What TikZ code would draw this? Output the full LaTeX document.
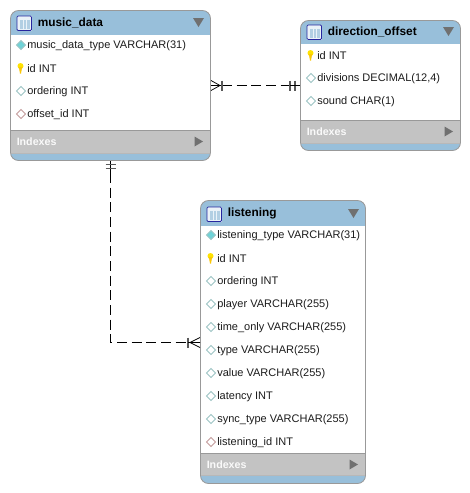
\documentclass[tikz,border=0pt]{standalone}
\usepackage{fontspec}
\setmainfont{Liberation Sans}
\usetikzlibrary{calc}
\definecolor{hdr}{HTML}{98BFDA}
\definecolor{idx}{HTML}{C3C3C3}
\definecolor{frame}{HTML}{999999}
\definecolor{tri}{HTML}{707070}
\definecolor{teal}{HTML}{9CC4C4}
\definecolor{cyanfill}{HTML}{6FD3D8}
\definecolor{fk}{HTML}{C49C9C}
\definecolor{ink}{HTML}{1C1C1C}
\tikzset{
  x=0.75pt,y=-0.75pt,
  titletext/.style={font=\bfseries\fontsize{8.9}{11}\selectfont,text=black,anchor=west,inner sep=0pt},
  coltext/.style={font=\fontsize{8.25}{10}\selectfont,text=ink,anchor=west,inner sep=0pt,yshift=-0.6pt},
  idxtext/.style={font=\bfseries\fontsize{8}{10}\selectfont,text=white!92!idx,anchor=west,inner sep=0pt},
  rel/.style={draw=black,line width=0.7pt,dash pattern=on 7.5pt off 3.5pt},
  tip/.style={draw=black,line width=0.55pt},
  bar/.style={draw=black!65,line width=0.8pt},
}
% #1 name, #2 x0, #3 y0, #4 x1, #5 y1, #6 header bottom, #7 index top, #8 index bottom, #9 title
\newcommand{\ertable}[9]{
  \path[fill=white,rounded corners=6pt] (#2,#3) rectangle (#4,#5);
  \begin{scope}
    \clip[rounded corners=6pt] (#2,#3) rectangle (#4,#5);
    \fill[hdr] (#2,#3) rectangle (#4,#6);
    \fill[hdr] (#2,#8) rectangle (#4,#5);
    \fill[idx] (#2,#7) rectangle (#4,#8);
    \draw[frame,line width=0.6pt] (#2,#7) -- (#4,#7);
    \draw[frame!70,line width=0.4pt] (#2,#8) -- (#4,#8);
  \end{scope}
  \path[draw=frame,line width=0.65pt,rounded corners=6pt] (#2,#3) rectangle (#4,#5);
  \coordinate (#1-nw) at (#2,#3);
  \coordinate (#1-se) at (#4,#5);
  % table icon
  \fill[white!80!hdr] ($(#2,#6)+(6.5,-19)$) rectangle ($(#2,#6)+(21,-4.5)$);
  \fill[hdr!75!white] ($(#2,#6)+(9,-15.5)$) rectangle ($(#2,#6)+(12,-6.5)$);
  \fill[hdr!75!white] ($(#2,#6)+(13,-15.5)$) rectangle ($(#2,#6)+(15.5,-6.5)$);
  \fill[hdr!75!white] ($(#2,#6)+(16.5,-15.5)$) rectangle ($(#2,#6)+(19.5,-6.5)$);
  \draw[blue!55!black!85,line width=0.6pt,rounded corners=0.8pt] ($(#2,#6)+(6.5,-19)$) rectangle ($(#2,#6)+(21,-4.5)$);
  \node[titletext] (#1-title) at ($(#2,#6)+(27,-12.5)$) {#9};
  \fill[tri] ($(#4,#6)+(-17.5,-17)$) -- ($(#4,#6)+(-6.5,-17)$) -- ($(#4,#6)+(-12,-8)$) -- cycle;
  \node[idxtext] (#1-indexes) at ($(#2,#7)+(6,11.5)$) {Indexes};
  \fill[tri] ($(#4,#7)+(-16,6.5)$) -- ($(#4,#7)+(-16,16.5)$) -- ($(#4,#7)+(-7.5,11.5)$) -- cycle;
}
\newcommand{\pk}[4]{
  \fill[yellow!85!orange] (#2+10.5,#3-2) circle (3);
  \fill[yellow!60!orange] (#2+8.8,#3-1) -- (#2+12.2,#3-1) -- (#2+11,#3+5.5) -- (#2+10,#3+5.5) -- cycle;
  \node[coltext] (#1) at (#2+17,#3) {#4};
}
\newcommand{\colrow}[5]{
  \path[#1] (#3+6.5,#4) -- (#3+11,#4-4.5) -- (#3+15.5,#4) -- (#3+11,#4+4.5) -- cycle;
  \node[coltext] (#2) at (#3+17,#4) {#5};
}
\tikzset{
  opn/.style={draw=teal,line width=0.75pt,fill=white},
  ful/.style={draw=teal,line width=0.6pt,fill=cyanfill},
  fkd/.style={draw=fk,line width=0.75pt,fill=white},
}
\begin{document}
\begin{tikzpicture}
\useasboundingbox (0,0) rectangle (470,493);
% music_data
\ertable{music}{10.5}{10.5}{210.5}{160.5}{35}{130}{153}{music\_data}
\colrow{ful}{m1}{10}{45}{music\_data\_type VARCHAR(31)}
\pk{m2}{10}{68}{id INT}
\colrow{opn}{m3}{10}{91}{ordering INT}
\colrow{fkd}{m4}{10}{114}{offset\_id INT}
% direction_offset
\ertable{dir}{300.5}{20.5}{460.5}{150.5}{44}{120}{143}{direction\_offset}
\pk{d1}{300}{55}{id INT}
\colrow{opn}{d2}{300}{78}{divisions DECIMAL(12,4)}
\colrow{opn}{d3}{300}{101}{sound CHAR(1)}
% listening
\ertable{lis}{200.5}{200.5}{365.5}{483.5}{226}{453}{475}{listening}
\colrow{ful}{l1}{200}{235}{listening\_type VARCHAR(31)}
\pk{l2}{200}{258}{id INT}
\colrow{opn}{l3}{200}{281}{ordering INT}
\colrow{opn}{l4}{200}{304}{player VARCHAR(255)}
\colrow{opn}{l5}{200}{327}{time\_only VARCHAR(255)}
\colrow{opn}{l6}{200}{350}{type VARCHAR(255)}
\colrow{opn}{l7}{200}{373}{value VARCHAR(255)}
\colrow{opn}{l8}{200}{396}{latency INT}
\colrow{opn}{l9}{200}{419}{sync\_type VARCHAR(255)}
\colrow{fkd}{l10}{200}{442}{listening\_id INT}
% connector anchors
\coordinate (c1a) at (222,85.5);
\coordinate (c1b) at (290,85.5);
\coordinate (c2a) at (110.5,173);
\coordinate (c2c) at (188,342.5);
\coordinate (c2b) at (110.5,342.5);
% connector 1
\draw[rel] (c1a) -- (c1b);
\draw[tip] (211,80.5) -- (220,85.5) -- (211,90.5) (211,85.5) -- (222,85.5);
\draw[bar] (c1a)+(0,-5) -- +(0,5);
\draw[bar] (c1b)+(0,-5) -- +(0,5);
\draw[bar] (c1b)+(5,-5) -- +(5,5);
\draw[tip] (c1b) -- (300,85.5);
% connector 2
\draw[rel] (c2a) -- (c2b) -- (c2c);
\draw[tip] (110.5,161) -- (c2a);
\draw[bar] (105.5,164.5) -- (115.5,164.5);
\draw[bar] (105.5,168.5) -- (115.5,168.5);
\draw[bar] (c2c)+(0,-5) -- +(0,5);
\draw[tip] (200,337.5) -- (190,342.5) -- (200,347.5) (188,342.5) -- (200,342.5);
\end{tikzpicture}
\end{document}
